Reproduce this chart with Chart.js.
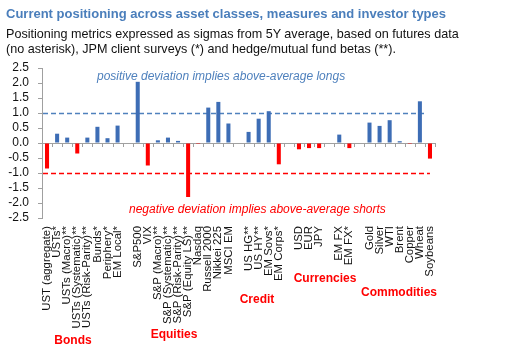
<!DOCTYPE html>
<html>
<head>
<meta charset="utf-8">
<script src="https://cdn.jsdelivr.net/npm/chart.js@4"></script>
<style>
  html, body { margin: 0; padding: 0; background: #fff; }
  body { width: 507px; height: 355px; position: relative; overflow: hidden; font-family: "Liberation Sans", Arial, sans-serif; }
  #wrap { position: absolute; left: 0; top: 0; width: 507px; height: 355px; }
  .t { position: absolute; white-space: nowrap; line-height: 1; }
  #title { left: 6px; top: 7px; font-size: 13px; font-weight: bold; color: #4A7EBB; }
  #sub1 { left: 6px; top: 28px; font-size: 12.6px; color: #111; }
  #sub2 { left: 6px; top: 43px; font-size: 12.6px; color: #111; }
  .grp { color: #FF0000; font-weight: bold; font-size: 12px; transform: translate(-50%, -50%); }
  .ann { font-style: italic; font-size: 12px; transform: translateY(-50%); }
</style>
</head>
<body>
<div id="wrap"><canvas id="c" width="507" height="355"></canvas></div>
<div class="t" id="title">Current positioning across asset classes, measures and investor types</div>
<div class="t" id="sub1">Positioning metrics expressed as sigmas from 5Y average, based on futures data</div>
<div class="t" id="sub2">(no asterisk), JPM client surveys (*) and hedge/mutual fund betas (**).</div>
<div class="t ann" style="left:97px; top:76px; color:#4F81BD;">positive deviation implies above-average longs</div>
<div class="t ann" style="left:129px; top:209px; color:#FF0000;">negative deviation implies above-average shorts</div>
<div class="t grp" style="left:73px; top:340px;">Bonds</div>
<div class="t grp" style="left:174px; top:334px;">Equities</div>
<div class="t grp" style="left:257px; top:299px;">Credit</div>
<div class="t grp" style="left:325px; top:278px;">Currencies</div>
<div class="t grp" style="left:399px; top:292px;">Commodities</div>
<script>
// ---- data ----
const categories = [
  "UST (aggregate)", "USTs*", "USTs (Macro)**", "USTs (Systematic)**", "USTs (Risk-Parity)**",
  "Bunds*", "Periphery*", "EM Local*", "",
  "S&P500", "VIX", "S&P (Macro)**", "S&P (Systematic)**", "S&P (Risk-Parity)**", "S&P (Equity LS)**",
  "Nasdaq", "Russell 2000", "Nikkei 225", "MSCI EM", "",
  "US HG**", "US HY**", "EM Sovs*", "EM Corps*", "",
  "USD", "EUR", "JPY", "", "EM FX", "EM FX*", "",
  "Gold", "Silver", "WTI", "Brent", "Copper", "Wheat", "Soybeans"
];
const sigmas = [
  -0.85, 0.31, 0.18, -0.35, 0.18,
  0.54, 0.16, 0.58, null,
  2.04, -0.75, 0.09, 0.18, 0.07, -1.80,
  -0.03, 1.18, 1.37, 0.65, null,
  0.37, 0.81, 1.06, -0.71, null,
  -0.21, -0.17, -0.17, null, 0.28, -0.17, null,
  0.68, 0.57, 0.76, 0.06, -0.03, 1.39, -0.52
];
const yTicks = [-2.5, -2.0, -1.5, -1.0, -0.5, 0.0, 0.5, 1.0, 1.5, 2.0, 2.5];
const longThreshold = 1.0;
const shortThreshold = -1.0;

const BLUE = "#3D6DB5";
const RED = "#FF0000";

const refLines = {
  id: "refLines",
  beforeDatasetsDraw(chart) {
    const { ctx, chartArea, scales } = chart;
    const x = scales.x, y = scales.y;
    const n = categories.length;
    const y0 = y.getPixelForValue(0);
    ctx.save();
    ctx.strokeStyle = "#A0A0A0";
    ctx.lineWidth = 1;
    ctx.beginPath();
    ctx.moveTo(chartArea.left, Math.round(y0) + 0.5);
    ctx.lineTo(chartArea.right, Math.round(y0) + 0.5);
    for (let i = 1; i <= n; i++) {
      const bx = Math.round(x.left + i * x.width / n) + 0.5;
      ctx.moveTo(bx, Math.round(y0));
      ctx.lineTo(bx, Math.round(y0) + 4);
    }
    ctx.stroke();
    const xEnd = x.getPixelForValue(n - 1);
    ctx.lineWidth = 1.4;
    ctx.setLineDash([5, 3]);
    ctx.strokeStyle = "#4F81BD";
    const yl = Math.round(y.getPixelForValue(longThreshold)) + 0.5;
    ctx.beginPath(); ctx.moveTo(chartArea.left + 1, yl); ctx.lineTo(xEnd - 3, yl); ctx.stroke();
    ctx.strokeStyle = RED;
    const ys = Math.round(y.getPixelForValue(shortThreshold)) + 0.5;
    ctx.beginPath(); ctx.moveTo(chartArea.left + 1, ys); ctx.lineTo(xEnd, ys); ctx.stroke();
    ctx.restore();
  }
};

new Chart(document.getElementById("c"), {
  type: "bar",
  data: {
    labels: categories,
    datasets: [{
      data: sigmas,
      backgroundColor: sigmas.map(v => (v !== null && v < 0) ? RED : BLUE),
      barPercentage: 0.4,
      categoryPercentage: 1.0
    }]
  },
  options: {
    responsive: false,
    devicePixelRatio: 1,
    animation: false,
    layout: { padding: { top: 68, right: 72, left: 0, bottom: 0 } },
    plugins: { legend: { display: false }, tooltip: { enabled: false } },
    scales: {
      x: {
        offset: true,
        grid: { display: false },
        border: { display: false },
        ticks: {
          autoSkip: false, maxRotation: 90, minRotation: 90, padding: 0,
          color: "#111", font: { family: "'Liberation Sans', Arial, sans-serif", size: 11.4 }
        },
        afterFit(s) { s.height = 137; }
      },
      y: {
        min: yTicks[0], max: yTicks[yTicks.length - 1],
        afterBuildTicks(s) { s.ticks = yTicks.map(v => ({ value: v })); },
        grid: { drawOnChartArea: false, tickLength: 4, color: "#A0A0A0" },
        border: { color: "#A0A0A0" },
        ticks: {
          autoSkip: false, padding: 9, color: "#111",
          font: { family: "'Liberation Sans', Arial, sans-serif", size: 12 },
          callback: v => Number(v).toFixed(1)
        },
        afterFit(s) { s.width = 42; }
      }
    }
  },
  plugins: [refLines]
});
</script>
</body>
</html>
